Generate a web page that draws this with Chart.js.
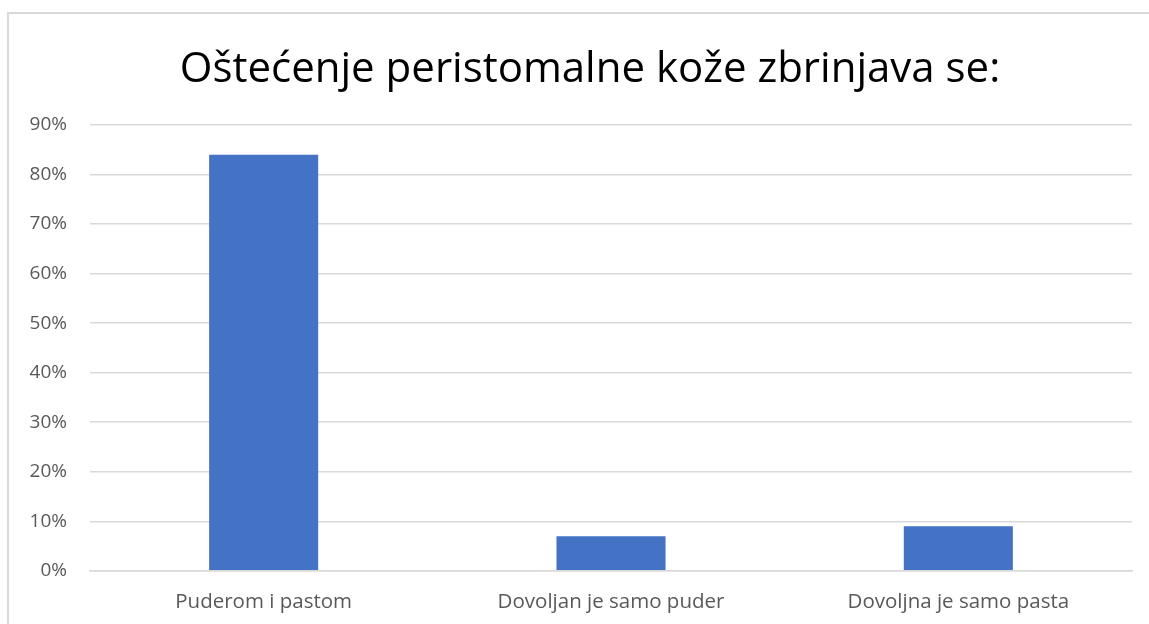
<!DOCTYPE html>
<html><head><meta charset="utf-8">
<script src="https://cdn.jsdelivr.net/npm/chart.js@4/dist/chart.umd.min.js"></script>
<style>
html,body{margin:0;padding:0;background:#fff;overflow:hidden;width:1149px;height:624px;}
#wrap{position:absolute;left:7px;top:12px;width:1180px;height:640px;border-left:2px solid #d9d9d9;border-top:2px solid #d9d9d9;box-sizing:border-box;}
canvas{display:block;}
</style></head><body>
<div id="wrap"><canvas id="c"></canvas></div>
<script>
const categories = ["Puderom i pastom", "Dovoljan je samo puder", "Dovoljna je samo pasta"];
const values = [84, 7, 9];
const yTicks = [0, 10, 20, 30, 40, 50, 60, 70, 80, 90];
const titleText = "Oštećenje peristomalne kože zbrinjava se:";

const tickFont = { family: 'Open Sans', size: 19 };
const mctx = document.createElement('canvas').getContext('2d');
mctx.font = tickFont.size + 'px "' + tickFont.family + '"';
const widest = Math.max(...yTicks.map(v => mctx.measureText(v + '%').width));

new Chart(document.getElementById('c'), {
  type: 'bar',
  data: {
    labels: categories,
    datasets: [{ data: values, backgroundColor: '#4472C4', categoryPercentage: 1, barPercentage: 0.314 }]
  },
  options: {
    responsive: true, maintainAspectRatio: false, animation: false,
    layout: { padding: { left: 39, right: 55, top: 0, bottom: 18.6 } },
    plugins: {
      legend: { display: false },
      tooltip: { enabled: false },
      title: { display: true, text: titleText, color: '#000', font: { family: 'Open Sans', size: 42, weight: 'normal' }, padding: { top: 31, bottom: 29.6 } }
    },
    scales: {
      y: {
        min: 0, max: 90,
        afterBuildTicks: a => { a.ticks = yTicks.map(v => ({ value: v })); },
        afterFit: a => { a.width = 42; },
        ticks: { callback: v => v + '%', color: '#595959', font: tickFont, mirror: true, crossAlign: 'far', padding: -23 - widest },
        grid: { color: '#d9d9d9', lineWidth: 1.5, drawTicks: false },
        border: { display: false }
      },
      x: {
        ticks: { color: '#595959', font: { family: 'Open Sans', size: 20.5 }, padding: 19 },
        grid: { display: false, drawTicks: false },
        border: { color: '#d9d9d9', width: 1.5 }
      }
    }
  }
});
</script></body></html>
